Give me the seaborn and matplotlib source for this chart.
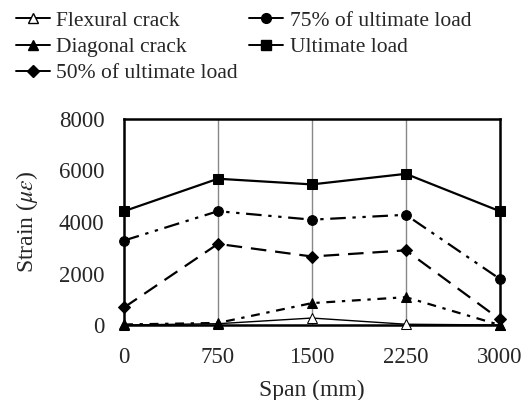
import matplotlib
matplotlib.use("Agg")
import matplotlib.pyplot as plt
from matplotlib.lines import Line2D
import seaborn as sns
import pandas as pd

# Strain along the span for each loading stage
span = [0, 750, 1500, 2250, 3000]
flexural_crack = [0, 50, 270, 30, 0]
diagonal_crack = [20, 80, 850, 1080, 0]
load_50 = [680, 3150, 2660, 2900, 220]
load_75 = [3280, 4420, 4090, 4280, 1790]
ultimate_load = [4420, 5680, 5460, 5870, 4420]

series_names = ["Flexural crack", "Diagonal crack", "50% of ultimate load",
                "75% of ultimate load", "Ultimate load"]
series_values = [flexural_crack, diagonal_crack, load_50, load_75, ultimate_load]
x_ticks = [0, 750, 1500, 2250, 3000]
y_ticks = [0, 2000, 4000, 6000, 8000]

sns.set_theme(style="white")
plt.rcParams["font.family"] = ["Liberation Serif", "DejaVu Serif"]
plt.rcParams["mathtext.fontset"] = "stix"

fig = plt.figure(figsize=(5.3, 4.0), dpi=100)
ax = fig.add_axes([0.234, 0.1875, 0.709, 0.515])

styles = {
    "Flexural crack": dict(marker="^", mfc="white", mec="black", ms=6.5, lw=1.0, ls="-"),
    "Diagonal crack": dict(marker="^", mfc="black", mec="black", ms=6.5, lw=1.6, dashes=(4, 3, 1.5, 3)),
    "50% of ultimate load": dict(marker="D", mfc="black", mec="black", ms=6, lw=1.6, dashes=(7, 4)),
    "75% of ultimate load": dict(marker="o", mfc="black", mec="black", ms=7, lw=1.6, dashes=(7, 3, 1.5, 3, 1.5, 3)),
    "Ultimate load": dict(marker="s", mfc="black", mec="black", ms=6.5, lw=1.6, ls="-"),
}

for name, vals in zip(series_names, series_values):
    df = pd.DataFrame({"span": span, "strain": vals})
    st = dict(styles[name])
    dashes = st.pop("dashes", None)
    line_kw = dict(color="black", clip_on=False, zorder=3)
    line_kw.update(st)
    sns.lineplot(data=df, x="span", y="strain", ax=ax, **line_kw)
    if dashes is not None:
        ax.lines[-1].set_dashes(dashes)

ax.set_xlim(0, 3000)
ax.set_ylim(0, 8000)
ax.set_xticks(x_ticks)
ax.set_yticks(y_ticks)
ax.set_xticklabels([str(v) for v in x_ticks], fontsize=16.5)
ax.set_yticklabels([str(v) for v in y_ticks], fontsize=16.5)
ax.tick_params(axis="x", length=0, pad=16)
ax.tick_params(axis="y", length=0, pad=14)
for v in x_ticks[1:-1]:
    ax.axvline(v, color="#888888", lw=1.0, zorder=1)
for s in ax.spines.values():
    s.set_color("black")
    s.set_linewidth(1.8)

ax.set_xlabel("Span (mm)", fontsize=17, labelpad=8)
ax.set_ylabel(r"Strain ($\mu\varepsilon$)", fontsize=17, labelpad=14)

# Legend drawn with short solid samples
def handle(name):
    st = dict(styles[name])
    st.pop("dashes", None)
    st["ls"] = "-"
    st["lw"] = 1.4
    return Line2D([], [], color="black", **st)

order = ["Flexural crack", "Diagonal crack", "50% of ultimate load",
         "75% of ultimate load", "Ultimate load"]
fig.legend([handle(n) for n in order], order, loc="upper left",
           bbox_to_anchor=(0.005, 1.005), ncol=2, frameon=False, fontsize=15.5,
           handlelength=1.6, handletextpad=0.3, columnspacing=0.5,
           labelspacing=0.28, borderaxespad=0.2)

fig.savefig("out.png", dpi=100)
